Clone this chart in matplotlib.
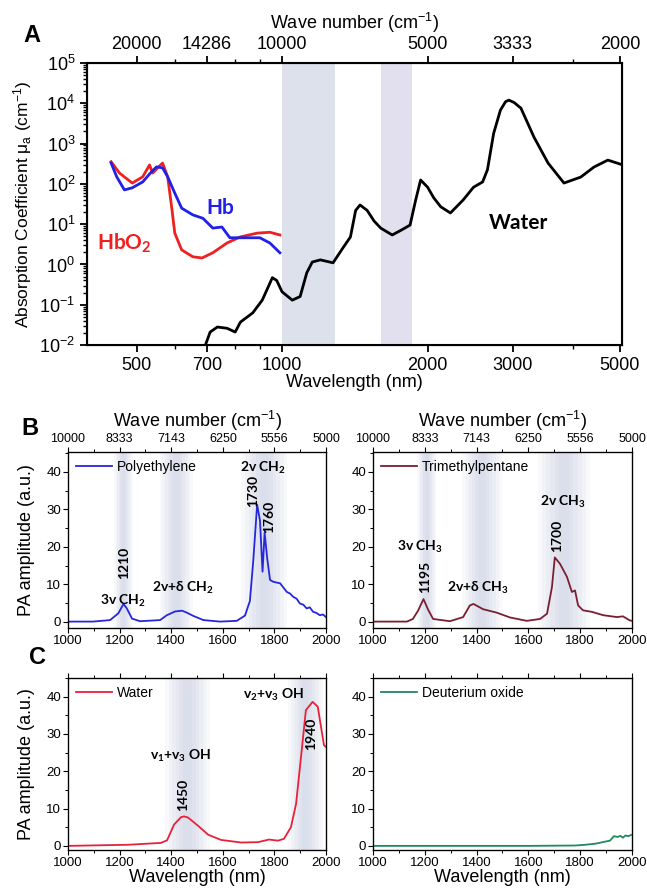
import numpy as np
import matplotlib
matplotlib.use("Agg")
import matplotlib.pyplot as plt
from matplotlib.ticker import FixedLocator, MultipleLocator, LogLocator, NullFormatter

plt.rcParams['font.family'] = ['Liberation Sans', 'DejaVu Sans']
plt.rcParams['mathtext.default'] = 'regular'

# --- Panel A data (wavelength nm, absorption coefficient cm^-1) ---------------
water_wl = [680, 710, 735, 770, 800, 820, 870, 910, 955, 975, 1000, 1050, 1090, 1125,
            1155, 1200, 1275, 1340, 1385, 1420, 1450, 1500, 1550, 1600, 1690, 1760, 1840,
            1890, 1935, 2000, 2060, 2130, 2230, 2370, 2490, 2600, 2660, 2740, 2830, 2900,
            2945, 3020, 3120, 3320, 3550, 3830, 4150, 4420, 4720, 5050]
water_mu = [0.005, 0.021, 0.028, 0.026, 0.021, 0.037, 0.063, 0.13, 0.47, 0.40, 0.21,
            0.13, 0.16, 0.62, 1.15, 1.3, 1.1, 2.7, 4.8, 22, 30, 22, 12, 8.0, 5.4, 7.0,
            9.5, 40, 125, 83, 45, 27, 19, 40, 83, 112, 224, 1800, 6800, 11000, 12000,
            10500, 7600, 1450, 330, 105, 148, 263, 390, 300]

hb_wl = [443, 455, 472, 490, 515, 537, 550, 566, 580, 600, 620, 654, 686, 719, 751,
         780, 830, 900, 944, 990]
hb_mu = [330, 150, 71, 80, 112, 200, 265, 250, 150, 59, 25, 17, 14, 8.0, 8.5, 4.6,
         4.6, 4.6, 3.4, 1.95]

hbo2_wl = [443, 461, 490, 515, 532, 540, 553, 566, 580, 591, 600, 620, 654, 683,
           719, 769, 818, 888, 944, 990]
hbo2_mu = [355, 186, 105, 150, 295, 186, 250, 330, 150, 27, 6.0, 2.3, 1.55, 1.45,
           1.95, 3.4, 4.8, 6.0, 6.3, 5.4]

a_ticks_nm = [500, 700, 1000, 2000, 3000, 5000]
a_ticks_wn = ['20000', '14286', '10000', '5000', '3333', '2000']
a_minor_nm = [600, 800, 900, 4000]
a_bands = [(1000, 1290), (1600, 1855)]

# --- Panels B, C data (wavelength nm, PA amplitude a.u.) ----------------------
pe_wl = [1000, 1097, 1163, 1195, 1215, 1228, 1248, 1279, 1357, 1383, 1415, 1442,
         1460, 1486, 1525, 1589, 1654, 1686, 1705, 1718, 1733, 1744, 1754, 1762,
         1772, 1783, 1796, 1822, 1848, 1860, 1873, 1886, 1899, 1912, 1925, 1937,
         1950, 1963, 1976, 1988, 2000]
pe_amp = [0.1, 0.1, 0.5, 2.3, 4.8, 3.6, 0.9, 0.2, 0.5, 1.8, 2.8, 3.0, 2.5, 1.6,
          0.5, 0.1, 0.3, 1.7, 5.6, 16.3, 31.3, 27.0, 13.4, 23.8, 17.0, 11.2, 10.7,
          10.3, 8.0, 7.6, 6.7, 6.2, 4.9, 4.6, 3.6, 3.9, 2.7, 2.4, 1.8, 2.0, 1.3]

tmp_wl = [1000, 1131, 1154, 1174, 1195, 1212, 1232, 1297, 1348, 1374, 1388, 1425,
          1477, 1529, 1594, 1645, 1672, 1691, 1702, 1722, 1749, 1768, 1780, 1792,
          1811, 1845, 1889, 1942, 1965, 1992, 2000]
tmp_amp = [0.1, 0.1, 0.8, 3.0, 6.1, 3.4, 0.8, 0.2, 1.3, 4.4, 4.8, 3.4, 2.5, 1.2,
           0.3, 0.8, 2.2, 9.3, 17.2, 15.5, 12.0, 8.0, 8.4, 4.4, 3.1, 2.7, 1.8, 1.3,
           1.5, 0.4, 0.3]

h2o_wl = [1000, 1233, 1360, 1384, 1411, 1438, 1450, 1465, 1504, 1543, 1593, 1671,
          1736, 1779, 1814, 1837, 1864, 1884, 1903, 1922, 1948, 1968, 1992, 2000]
h2o_amp = [0.0, 0.3, 0.8, 1.5, 5.7, 7.7, 7.9, 7.6, 5.4, 3.0, 1.6, 0.9, 1.0, 1.7,
           1.4, 1.9, 5.0, 11.3, 23.8, 36.4, 38.6, 37.3, 27.0, 26.5]

d2o_wl = [1000, 1200, 1400, 1600, 1780, 1820, 1860, 1900, 1915, 1930, 1945, 1955,
          1965, 1975, 1985, 2000]
d2o_amp = [0.0, 0.0, 0.0, 0.0, 0.1, 0.3, 0.6, 1.2, 1.4, 2.6, 2.4, 2.7, 2.2, 2.8,
           2.6, 3.0]

bc_ticks_nm = [1000, 1200, 1400, 1600, 1800, 2000]
bc_ticks_wn = ['10000', '8333', '7143', '6250', '5556', '5000']

pe_bands = [(1180, 1250), (1355, 1485), (1672, 1850)]
tmp_bands = [(1170, 1245), (1345, 1498), (1637, 1838)]
h2o_bands = [(1376, 1550), (1853, 1990)]

ann_font = ['Lato', 'DejaVu Sans']

fig = plt.figure(figsize=(6.47, 8.92), dpi=100)

# ---------------------------- Panel A ----------------------------------------
axA = fig.add_axes([0.1345, 0.6132, 0.8269, 0.3161])
for (a, b), c in zip(a_bands, ['#dce1ec', '#e2e0ef']):
    axA.axvspan(a, b, color=c, lw=0, zorder=0)
axA.plot(water_wl, water_mu, color='black', lw=2.0, zorder=3)
axA.plot(hb_wl, hb_mu, color='#2020e8', lw=2.0, zorder=3)
axA.plot(hbo2_wl, hbo2_mu, color='#ee2020', lw=2.0, zorder=2)
axA.set_xscale('log')
axA.set_yscale('log')
axA.set_xlim(395, 5050)
axA.set_ylim(1e-2, 1e5)
axA.xaxis.set_major_locator(FixedLocator(a_ticks_nm))
axA.xaxis.set_minor_locator(FixedLocator(a_minor_nm))
axA.set_xticklabels([str(t) for t in a_ticks_nm])
axA.xaxis.set_minor_formatter(NullFormatter())
axA.yaxis.set_major_locator(LogLocator(base=10, numticks=10))
axA.yaxis.set_minor_locator(LogLocator(base=10, subs=np.arange(2, 10), numticks=20))
axA.tick_params(axis='both', which='major', labelsize=13, width=1.3, length=5)
axA.tick_params(axis='both', which='minor', width=1.0, length=3)
axA.tick_params(axis='y', which='both', right=False)
for s in axA.spines.values():
    s.set_linewidth(1.5)
axA.set_xlabel('Wavelength (nm)', fontsize=13, labelpad=0)
axA.set_ylabel(r'Absorption Coefficient $\mu_a$ (cm$^{-1}$)', fontsize=12.5, labelpad=4)

topA = axA.twiny()
topA.set_xscale('log')
topA.set_xlim(axA.get_xlim())
topA.xaxis.set_major_locator(FixedLocator(a_ticks_nm))
topA.xaxis.set_minor_locator(FixedLocator(a_minor_nm))
topA.set_xticklabels(a_ticks_wn)
topA.xaxis.set_minor_formatter(NullFormatter())
topA.tick_params(axis='x', which='major', labelsize=13, width=1.3, length=5, pad=2)
topA.tick_params(axis='x', which='minor', width=1.0, length=3)
topA.set_xlabel('Wave number (cm$^{-1}$)', fontsize=13, labelpad=5)

axA.text(745, 25, 'Hb', color='#2020e8', fontsize=15, fontweight='bold',
         family=ann_font, ha='center', va='center')
axA.text(472, 3.3, 'HbO$_2$', color='#ee2020', fontsize=15, fontweight='bold',
         family=ann_font, ha='center', va='center')
axA.text(3080, 11, 'Water', color='black', fontsize=15, fontweight='bold',
         family=ann_font, ha='center', va='center')


def shade(ax, bands):
    # soft-edged vertical bands, darker toward the centre
    for a, b in bands:
        w = b - a
        for k in range(6):
            d = w * 0.08 * k
            ax.axvspan(a + d, b - d, color='#aab3d2', alpha=0.08, lw=0, zorder=0)


def spectrum_axes(rect, wl, amp, color, label, bands, ylim, top=False, bottom=False):
    ax = fig.add_axes(rect)
    shade(ax, bands)
    ax.plot(wl, amp, color=color, lw=1.3, label=label, zorder=3)
    ax.set_xlim(1000, 2000)
    ax.set_ylim(*ylim)
    ax.xaxis.set_major_locator(FixedLocator(bc_ticks_nm))
    ax.xaxis.set_minor_locator(MultipleLocator(100))
    ax.yaxis.set_major_locator(MultipleLocator(10))
    ax.yaxis.set_minor_locator(MultipleLocator(5))
    ax.tick_params(axis='both', which='major', labelsize=9.5, length=3.5, width=0.8, pad=1.5)
    ax.tick_params(axis='both', which='minor', length=2, width=0.7)
    for s in ax.spines.values():
        s.set_linewidth(0.9)
    ax.legend(loc='upper left', frameon=False, fontsize=10, handlelength=2.6,
              handletextpad=0.3, borderaxespad=0.2)
    tx = ax.twiny()
    tx.set_xlim(1000, 2000)
    tx.xaxis.set_major_locator(FixedLocator(bc_ticks_nm))
    tx.xaxis.set_minor_locator(MultipleLocator(100))
    if top:
        tx.set_xticklabels(bc_ticks_wn)
        tx.set_xlabel('Wave number (cm$^{-1}$)', fontsize=13, labelpad=4)
    else:
        tx.set_xticklabels([])
    tx.tick_params(axis='x', which='major', labelsize=9, length=3.5, width=0.8, pad=1.5)
    tx.tick_params(axis='x', which='minor', length=2, width=0.7)
    if bottom:
        ax.set_xlabel('Wavelength (nm)', fontsize=13, labelpad=0)
    return ax


b_ylim = (-1.6, 45.3)
c_ylim = (-1.1, 45.0)

axB1 = spectrum_axes([0.1051, 0.2960, 0.3988, 0.1973], pe_wl, pe_amp, '#2626dc',
                     'Polyethylene', pe_bands, b_ylim, top=True)
axB2 = spectrum_axes([0.5765, 0.2960, 0.4003, 0.1973], tmp_wl, tmp_amp, '#7a1f30',
                     'Trimethylpentane', tmp_bands, b_ylim, top=True)
axC1 = spectrum_axes([0.1051, 0.0471, 0.3988, 0.1928], h2o_wl, h2o_amp, '#e8203a',
                     'Water', h2o_bands, c_ylim, bottom=True)
axC2 = spectrum_axes([0.5765, 0.0471, 0.4003, 0.1928], d2o_wl, d2o_amp, '#1f8a5f',
                     'Deuterium oxide', [], c_ylim, bottom=True)

axB1.set_ylabel('PA amplitude (a.u.)', fontsize=13, labelpad=8)
axC1.set_ylabel('PA amplitude (a.u.)', fontsize=13, labelpad=8)

kw = dict(fontsize=10, fontweight='bold', family=ann_font, ha='center', va='center', zorder=4)
# Panel B left annotations
axB1.text(1756, 41, '2v CH$_2$', **kw)
axB1.text(1717, 35, '1730', rotation=90, **kw)
axB1.text(1779, 28, '1760', rotation=90, **kw)
axB1.text(1217, 15.7, '1210', rotation=90, **kw)
axB1.text(1212, 5.6, '3v CH$_2$', **kw)
axB1.text(1446, 9.0, '2v+δ CH$_2$', **kw)
# Panel B right annotations
axB2.text(1734, 32, '2v CH$_3$', **kw)
axB2.text(1710, 23, '1700', rotation=90, **kw)
axB2.text(1181, 20, '3v CH$_3$', **kw)
axB2.text(1200, 12, '1195', rotation=90, **kw)
axB2.text(1405, 9.0, '2v+δ CH$_3$', **kw)
# Panel C left annotations
axC1.text(1798, 40.5, 'v$_2$+v$_3$ OH', **kw)
axC1.text(1942, 30, '1940', rotation=90, **kw)
axC1.text(1438, 24, 'v$_1$+v$_3$ OH', **kw)
axC1.text(1446, 13.7, '1450', rotation=90, **kw)

# panel letters
fig.text(32 / 647, 1 - 35 / 892, 'A', fontsize=17, fontweight='bold', ha='center', va='center')
fig.text(30 / 647, 1 - 428 / 892, 'B', fontsize=17, fontweight='bold', ha='center', va='center')
fig.text(38 / 647, 1 - 658 / 892, 'C', fontsize=17, fontweight='bold', ha='center', va='center')

fig.savefig('out.png', dpi=100)
